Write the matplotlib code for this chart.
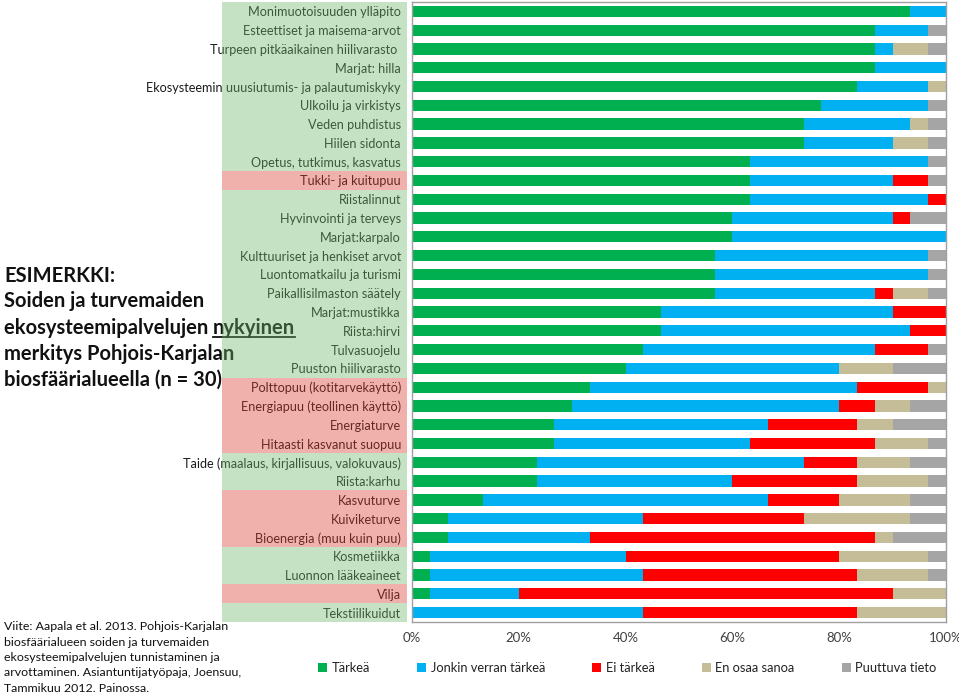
import matplotlib
matplotlib.use("Agg")
import matplotlib.pyplot as plt
from matplotlib.patches import Patch, Rectangle
from matplotlib.transforms import blended_transform_factory
from matplotlib.lines import Line2D
import numpy as np

plt.rcParams["font.family"] = ["Lato", "DejaVu Sans"]

N = 30
palvelut = [
    "Monimuotoisuuden ylläpito",
    "Esteettiset ja maisema-arvot",
    "Turpeen pitkäaikainen hiilivarasto ",
    "Marjat: hilla",
    "Ekosysteemin uuusiutumis- ja palautumiskyky",
    "Ulkoilu ja virkistys",
    "Veden puhdistus",
    "Hiilen sidonta",
    "Opetus, tutkimus, kasvatus",
    "Tukki- ja kuitupuu",
    "Riistalinnut",
    "Hyvinvointi ja terveys",
    "Marjat:karpalo",
    "Kulttuuriset ja henkiset arvot",
    "Luontomatkailu ja turismi",
    "Paikallisilmaston säätely",
    "Marjat:mustikka",
    "Riista:hirvi",
    "Tulvasuojelu",
    "Puuston hiilivarasto",
    "Polttopuu (kotitarvekäyttö)",
    "Energiapuu (teollinen käyttö)",
    "Energiaturve",
    "Hitaasti kasvanut suopuu",
    "Taide (maalaus, kirjallisuus, valokuvaus)",
    "Riista:karhu",
    "Kasvuturve",
    "Kuiviketurve",
    "Bioenergia (muu kuin puu)",
    "Kosmetiikka",
    "Luonnon lääkeaineet",
    "Vilja",
    "Tekstiilikuidut",
]
# rows shaded red in the label column
punaiset = {
    "Tukki- ja kuitupuu", "Polttopuu (kotitarvekäyttö)", "Energiapuu (teollinen käyttö)",
    "Energiaturve", "Hitaasti kasvanut suopuu", "Kasvuturve", "Kuiviketurve",
    "Bioenergia (muu kuin puu)", "Vilja",
}

# answer counts (n = 30)
tarkea = [28, 26, 26, 26, 25, 23, 22, 22, 19, 19, 19, 18, 18, 17, 17, 17, 14,
          14, 13, 12, 10, 9, 8, 8, 7, 7, 4, 2, 2, 1, 1, 1, 0]
jonkin = [2, 3, 1, 4, 4, 6, 6, 5, 10, 8, 10, 9, 12, 12, 12, 9, 13,
          14, 13, 12, 15, 15, 12, 11, 15, 11, 16, 11, 8, 11, 12, 5, 13]
ei_tarkea = [0, 0, 0, 0, 0, 0, 0, 0, 0, 2, 1, 1, 0, 0, 0, 1, 3,
             2, 3, 0, 4, 2, 5, 7, 3, 7, 4, 9, 16, 12, 12, 21, 12]
en_osaa = [0, 0, 2, 0, 1, 0, 1, 2, 0, 0, 0, 0, 0, 0, 0, 2, 0,
           0, 0, 3, 1, 2, 2, 3, 3, 4, 4, 6, 1, 5, 4, 3, 5]
puuttuva = [0, 1, 1, 0, 0, 1, 1, 1, 1, 1, 0, 2, 0, 1, 1, 1, 0,
            0, 1, 3, 0, 2, 3, 1, 2, 1, 2, 2, 3, 1, 1, 0, 0]

sarjat = ["Tärkeä", "Jonkin verran tärkeä", "Ei tärkeä", "En osaa sanoa", "Puuttuva tieto"]
varit = ["#00B050", "#00B0F0", "#FF0000", "#C4BD97", "#A5A5A5"]
xtikit = [0, 20, 40, 60, 80, 100]

W, H = 959, 699
fig = plt.figure(figsize=(W / 100, H / 100), dpi=100)
ax = fig.add_axes([412 / W, 1 - 622 / H, (946 - 412) / W, 620 / H])

y = np.arange(len(palvelut))
left = np.zeros(len(palvelut))
for vals, col in zip([tarkea, jonkin, ei_tarkea, en_osaa, puuttuva], varit):
    pct = np.array(vals) / N * 100
    ax.barh(y, pct, left=left, height=0.6, color=col, linewidth=0)
    left += pct

ax.set_xlim(0, 100)
ax.set_ylim(len(palvelut) - 0.5, -0.5)
ax.set_yticks(y)
ax.set_yticklabels(palvelut, fontsize=9.1, color="#1a1a1a")
ax.set_xticks(xtikit)
ax.set_xticklabels([f"{t}%" for t in xtikit], fontsize=9.5, color="#404040")
ax.tick_params(axis="both", length=0)
ax.tick_params(axis="y", pad=8)
ax.tick_params(axis="x", pad=7)
for s in ax.spines.values():
    s.set_color("#A0A0A0")
    s.set_linewidth(1.0)

# translucent colour bands over the label column
tr = blended_transform_factory(fig.transFigure, ax.transData)
for i, name in enumerate(palvelut):
    c = "#DA3E30" if name in punaiset else "#70BB6C"
    fig.add_artist(Rectangle((222 / W, i - 0.5), (407 - 222) / W, 1.0, transform=tr,
                             facecolor=c, alpha=0.4, linewidth=0, zorder=10))

# title block
tx = 4 / W
rivit = ["ESIMERKKI:", "Soiden ja turvemaiden", None,
         "merkitys Pohjois-Karjalan", "biosfäärialueella (n = 30)"]
ys = [276, 301, 328, 354, 380]
for r, yy in zip(rivit, ys):
    if r is None:
        continue
    fig.text(tx, 1 - yy / H, r, fontsize=14.5, fontweight="bold", color="#111111",
             va="center", ha="left")
t1 = fig.text(tx, 1 - ys[2] / H, "ekosysteemipalvelujen ", fontsize=14.5,
              fontweight="bold", color="#111111", va="center", ha="left")
r = fig.canvas.get_renderer()
bb = t1.get_window_extent(r)
t2 = fig.text(bb.x1 / W, 1 - ys[2] / H, "nykyinen", fontsize=14.5, fontweight="bold",
              color="#111111", va="center", ha="left")
bb2 = t2.get_window_extent(r)
fig.add_artist(Line2D([bb2.x0 / W, bb2.x1 / W], [(bb2.y0 + 1) / H] * 2,
                      transform=fig.transFigure, color="#111111", linewidth=1.3))

viite = ("Viite: Aapala et al. 2013. Pohjois-Karjalan\n"
         "biosfäärialueen soiden ja turvemaiden\n"
         "ekosysteemipalvelujen tunnistaminen ja\n"
         "arvottaminen. Asiantuntijatyöpaja, Joensuu,\n"
         "Tammikuu 2012. Painossa.")
fig.text(tx, 1 - 621 / H, viite, fontsize=8.9, color="#111111", va="top", ha="left",
         linespacing=1.5)

handles = [Patch(facecolor=c, edgecolor="none") for c in varit]
fig.legend(handles, sarjat, loc="center left", bbox_to_anchor=(318 / W, 1 - 668 / H),
           ncol=5, frameon=False, fontsize=9.3, handlelength=0.7, handleheight=0.7,
           handletextpad=0.35, columnspacing=3.65, borderpad=0, borderaxespad=0,
           labelcolor="#222222")

fig.savefig("out.png", dpi=100)
